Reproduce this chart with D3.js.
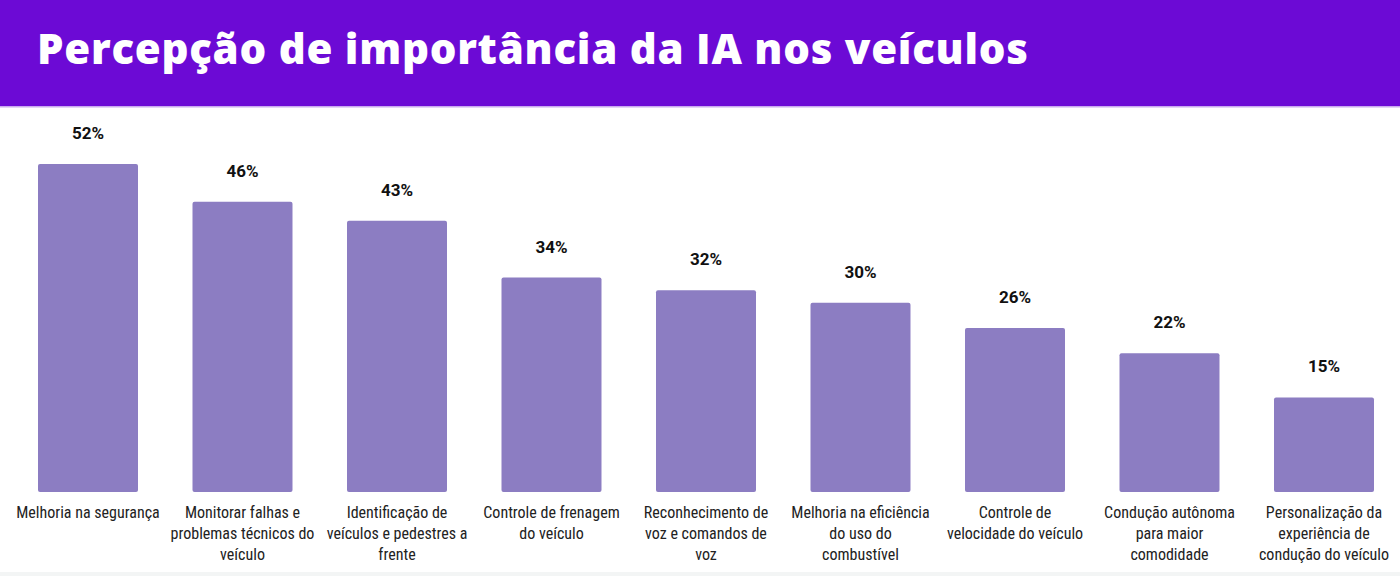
<!DOCTYPE html>
<html>
<head>
<meta charset="utf-8">
<script src="https://cdn.jsdelivr.net/npm/d3@7"></script>
<style>
  html, body { margin: 0; padding: 0; background: #fff; }
  svg { display: block; }
</style>
</head>
<body>
<div id="chart"></div>
<script>
const title = "Percepção de importância da IA nos veículos";
const categories = [
  ["Melhoria na segurança"],
  ["Monitorar falhas e", "problemas técnicos do", "veículo"],
  ["Identificação de", "veículos e pedestres a", "frente"],
  ["Controle de frenagem", "do veículo"],
  ["Reconhecimento de", "voz e comandos de", "voz"],
  ["Melhoria na eficiência", "do uso do", "combustível"],
  ["Controle de", "velocidade do veículo"],
  ["Condução autônoma", "para maior", "comodidade"],
  ["Personalização da", "experiência de", "condução do veículo"],
];
const values = [52, 46, 43, 34, 32, 30, 26, 22, 15];

const width = 1400, height = 576;
const svg = d3.select("#chart").append("svg").attr("width", width).attr("height", height);

// header band
svg.append("rect").attr("x", 0).attr("y", 0).attr("width", width).attr("height", 106).attr("fill", "#6c0ad5");
svg.append("rect").attr("x", 0).attr("y", 106).attr("width", width).attr("height", 1.5).attr("fill", "#c9a9ef");
svg.append("text")
  .attr("x", 37).attr("y", 64)
  .attr("fill", "#fff")
  .attr("font-family", "'Open Sans', sans-serif")
  .attr("font-weight", 800)
  .attr("font-size", 42)
  .attr("textLength", 991)
  .attr("lengthAdjust", "spacing")
  .text(title);

// light footer strip
svg.append("rect").attr("x", 0).attr("y", 572).attr("width", width).attr("height", 4).attr("fill", "#f3f5f5");

const idx = values.map((_, i) => i);
const x = d3.scaleBand().domain(idx).range([10.75, 1401.25]).paddingInner(0.3528).paddingOuter(0.1764);
const y = d3.scaleLinear().domain([0, 52]).range([492, 164]);

svg.append("g").selectAll("rect").data(values).join("rect")
  .attr("x", (_, i) => x(i))
  .attr("y", d => y(d))
  .attr("width", x.bandwidth())
  .attr("height", d => y(0) - y(d))
  .attr("rx", 2)
  .attr("fill", "#8c7dc2");

svg.append("g").selectAll("text").data(values).join("text")
  .attr("x", (_, i) => x(i) + x.bandwidth() / 2)
  .attr("y", d => y(d) - 25)
  .attr("text-anchor", "middle")
  .attr("font-family", "Roboto, sans-serif")
  .attr("font-weight", 700)
  .attr("font-size", 17)
  .attr("fill", "#111")
  .text(d => d + "%");

const labels = svg.append("g").selectAll("text").data(categories).join("text")
  .attr("x", (_, i) => x(i) + x.bandwidth() / 2)
  .attr("y", 518)
  .attr("text-anchor", "middle")
  .attr("font-family", "'Liberation Sans Narrow', 'Arial Narrow', 'Roboto Condensed', sans-serif")
  .attr("font-size", 16)
  .attr("fill", "#222");
labels.selectAll("tspan").data(d => d).join("tspan")
  .attr("x", function () { return this.parentNode.getAttribute("x"); })
  .attr("dy", (_, j) => j === 0 ? 0 : 21)
  .text(d => d);
</script>
</body>
</html>
